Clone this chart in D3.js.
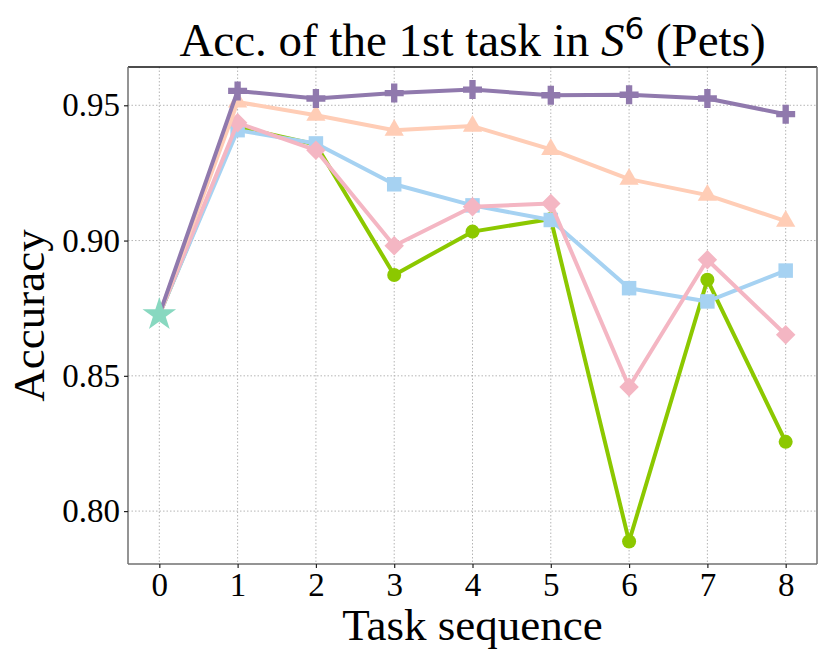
<!DOCTYPE html>
<html>
<head>
<meta charset="utf-8">
<script src="https://cdn.jsdelivr.net/npm/d3@7"></script>
<style>
  body { margin: 0; background: #fff; }
  svg { display: block; }
  text { font-family: "Liberation Serif", "Times New Roman", serif; fill: #000; }
</style>
</head>
<body>
<svg id="canvas" width="830" height="664"></svg>
<script>
// task index on the x axis
const tasks = [0, 1, 2, 3, 4, 5, 6, 7, 8];
const xTicks = [0, 1, 2, 3, 4, 5, 6, 7, 8];
const yTicks = [0.80, 0.85, 0.90, 0.95];

// accuracy of the first task after each step (all start from the same point)
const startAcc = 0.8726;
const purpleAcc = [0.8726, 0.9553, 0.9525, 0.9545, 0.9558, 0.9537, 0.9539, 0.9525, 0.9467];
const peachAcc = [0.8726, 0.9512, 0.9463, 0.9408, 0.9423, 0.9337, 0.9227, 0.9168, 0.9072];
const blueAcc = [0.8726, 0.9408, 0.9359, 0.9208, 0.9130, 0.9076, 0.8824, 0.8775, 0.8889];
const pinkAcc = [0.8726, 0.9435, 0.9334, 0.8981, 0.9125, 0.9137, 0.8459, 0.8929, 0.8652];
const greenAcc = [0.8726, 0.9420, 0.9355, 0.8873, 0.9033, 0.9080, 0.7888, 0.8855, 0.8256];

const svg = d3.select('#canvas');

const plotLeft = 128, plotRight = 817, plotTop = 67, plotBottom = 564;
const serif = 'Liberation Serif, Times New Roman, serif';

// matplotlib style 5% margins
const allVals = [].concat(purpleAcc, peachAcc, blueAcc, pinkAcc, greenAcc);
let yMin = d3.min(allVals), yMax = d3.max(allVals);
let yPad = (yMax - yMin) * 0.05;
let xPad = (d3.max(tasks) - d3.min(tasks)) * 0.05;

const x = d3.scaleLinear()
  .domain([d3.min(tasks) - xPad, d3.max(tasks) + xPad])
  .range([plotLeft, plotRight]);
const y = d3.scaleLinear()
  .domain([yMin - yPad, yMax + yPad])
  .range([plotBottom, plotTop]);

// grid
const grid = svg.append('g');
grid.selectAll('line.gx').data(xTicks).enter().append('line')
  .attr('x1', d => x(d)).attr('x2', d => x(d))
  .attr('y1', plotTop).attr('y2', plotBottom)
  .attr('stroke', '#b5b5b5').attr('stroke-width', 1)
  .attr('stroke-dasharray', '1.5,2');
grid.selectAll('line.gy').data(yTicks).enter().append('line')
  .attr('x1', plotLeft).attr('x2', plotRight)
  .attr('y1', d => y(d)).attr('y2', d => y(d))
  .attr('stroke', '#b5b5b5').attr('stroke-width', 1)
  .attr('stroke-dasharray', '1.5,2');

// series, drawn bottom to top
const series = [
  { vals: greenAcc, color: '#8cc800', symbol: d3.symbolCircle, size: 155, rotate: 0 },
  { vals: blueAcc, color: '#a6d2f2', symbol: d3.symbolSquare, size: 210, rotate: 0 },
  { vals: pinkAcc, color: '#f4b6c3', symbol: d3.symbolSquare, size: 190, rotate: 45 },
  { vals: peachAcc, color: '#ffcdb6', symbol: d3.symbolTriangle, size: 160, rotate: 0 },
  { vals: purpleAcc, color: '#9079ad', symbol: d3.symbolCross, size: 200, rotate: 0 }
];

const line = d3.line()
  .x((d, i) => x(tasks[i]))
  .y(d => y(d));

series.forEach(s => {
  let g = svg.append('g');
  g.append('path')
    .attr('d', line(s.vals))
    .attr('fill', 'none')
    .attr('stroke', s.color)
    .attr('stroke-width', 4)
    .attr('stroke-linejoin', 'round');
  g.selectAll('path.mk').data(s.vals.slice(1)).enter().append('path')
    .attr('class', 'mk')
    .attr('d', d3.symbol().type(s.symbol).size(s.size))
    .attr('fill', s.color)
    .attr('transform', (d, i) => 'translate(' + x(tasks[i + 1]) + ',' + y(d) + ') rotate(' + s.rotate + ')');
});

// shared starting point
svg.append('path')
  .attr('d', d3.symbol().type(d3.symbolStar).size(350))
  .attr('fill', '#88d8c0')
  .attr('transform', 'translate(' + x(tasks[0]) + ',' + y(startAcc) + ')');

// frame
const frame = svg.append('g').attr('fill', 'none');
frame.append('line').attr('x1', plotLeft).attr('x2', plotRight).attr('y1', plotTop).attr('y2', plotTop)
  .attr('stroke', '#111').attr('stroke-width', 1.5);
frame.append('line').attr('x1', plotLeft).attr('x2', plotRight).attr('y1', plotBottom).attr('y2', plotBottom)
  .attr('stroke', '#707070').attr('stroke-width', 1.5);
frame.append('line').attr('x1', plotLeft).attr('x2', plotLeft).attr('y1', plotTop).attr('y2', plotBottom)
  .attr('stroke', '#707070').attr('stroke-width', 1.5);
frame.append('line').attr('x1', plotRight).attr('x2', plotRight).attr('y1', plotTop).attr('y2', plotBottom)
  .attr('stroke', '#707070').attr('stroke-width', 1.5);

// axes
const xAxis = svg.append('g')
  .attr('transform', 'translate(0,' + plotBottom + ')')
  .call(d3.axisBottom(x).tickValues(xTicks).tickFormat(d3.format('d')).tickSize(4).tickPadding(5));
const yAxis = svg.append('g')
  .attr('transform', 'translate(' + plotLeft + ',0)')
  .call(d3.axisLeft(y).tickValues(yTicks).tickFormat(d3.format('.2f')).tickSize(4).tickPadding(4));
[xAxis, yAxis].forEach(a => {
  a.attr('font-family', serif).attr('font-size', 33);
  a.select('.domain').remove();
  a.selectAll('.tick line').attr('stroke', '#222').attr('stroke-width', 1.2);
  a.selectAll('.tick text')
    .attr('font-family', serif)
    .style('font-family', serif)
    .attr('fill', '#000');
});

// labels
svg.append('text')
  .attr('x', (plotLeft + plotRight) / 2)
  .attr('y', 640)
  .attr('text-anchor', 'middle')
  .style('font-size', '45px')
  .text('Task sequence');

svg.append('text')
  .attr('transform', 'translate(44,' + (plotTop + plotBottom) / 2 + ') rotate(-90)')
  .attr('text-anchor', 'middle')
  .style('font-size', '45px')
  .text('Accuracy');

const title = svg.append('text')
  .attr('x', (plotLeft + plotRight) / 2)
  .attr('y', 56)
  .attr('text-anchor', 'middle')
  .style('font-size', '47px');
title.append('tspan').text('Acc. of the 1st task in ');
title.append('tspan').style('font-style', 'italic').text('S');
title.append('tspan')
  .attr('dy', -17)
  .style('font-family', 'DejaVu Sans, sans-serif')
  .style('font-size', '31px')
  .text('6');
title.append('tspan').attr('dy', 17).text(' (Pets)');
</script>
</body>
</html>
